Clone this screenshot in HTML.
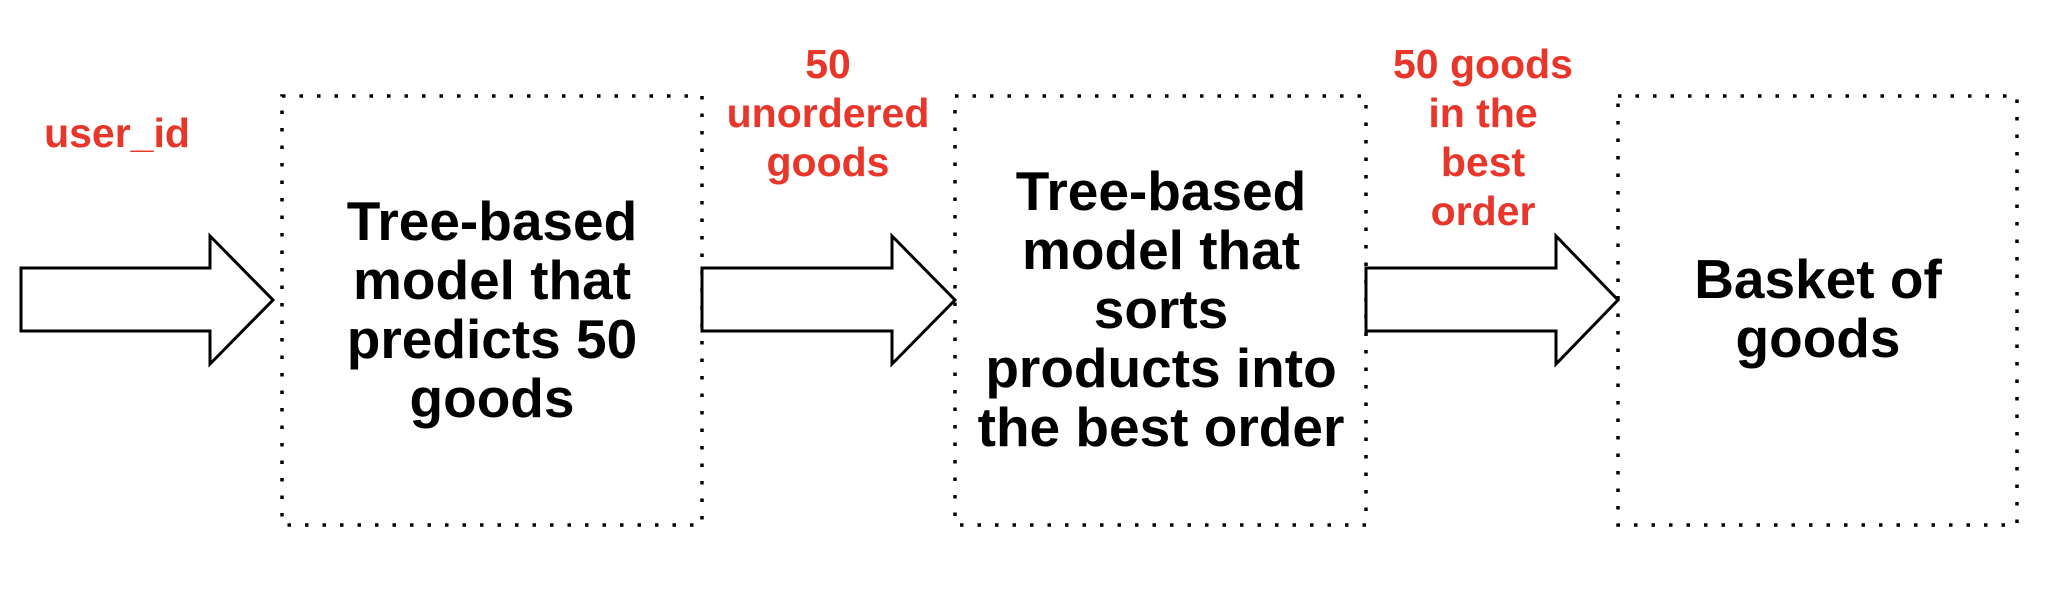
<!DOCTYPE html>
<html><head><meta charset="utf-8"><style>html,body{margin:0;padding:0;background:#fff}svg{display:block}</style></head>
<body>
<svg width="2056" height="592" viewBox="0 0 2056 592" xmlns="http://www.w3.org/2000/svg">
<g fill="none" stroke="#000" stroke-width="3.5" stroke-dasharray="3.5 14">
<rect x="282" y="96" width="420" height="429"/>
<rect x="955" y="96" width="411" height="429"/>
<rect x="1618" y="96" width="399" height="429"/>
</g>
<g fill="#fff" stroke="#000" stroke-width="3">
<polygon points="21,268 210,268 210,236 273,300 210,364 210,331 21,331"/>
<polygon points="702,268 892,268 892,236 955,300 892,364 892,331 702,331"/>
<polygon points="1366,268 1556,268 1556,236 1618,300 1556,364 1556,331 1366,331"/>
</g>
<g font-family="Liberation Sans, Arial, sans-serif" font-weight="bold" font-size="55" text-anchor="middle" fill="#000">
<text x="492" y="240">Tree-based</text>
<text x="492" y="299">model that</text>
<text x="492" y="358">predicts 50</text>
<text x="492" y="417">goods</text>
<text x="1161" y="210">Tree-based</text>
<text x="1161" y="269">model that</text>
<text x="1161" y="328">sorts</text>
<text x="1161" y="387">products into</text>
<text x="1161" y="446">the best order</text>
<text x="1818" y="298">Basket of</text>
<text x="1818" y="357">goods</text>
</g>
<g font-family="Liberation Sans, Arial, sans-serif" font-weight="bold" font-size="41" text-anchor="middle" fill="#e8372a">
<text x="117" y="147">user_id</text>
<text x="828" y="78">50</text>
<text x="828" y="127">unordered</text>
<text x="828" y="176">goods</text>
<text x="1483" y="78">50 goods</text>
<text x="1483" y="127">in the</text>
<text x="1483" y="176">best</text>
<text x="1483" y="225">order</text>
</g>
</svg>
</body></html>
